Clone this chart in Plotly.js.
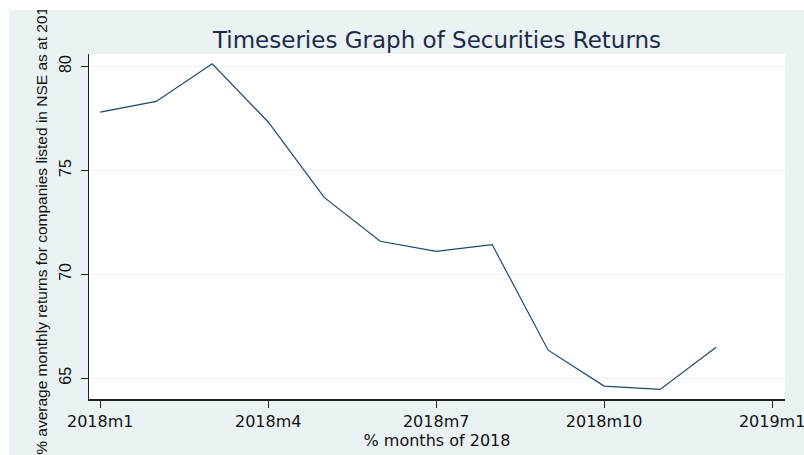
<!DOCTYPE html>
<html>
<head>
<meta charset="utf-8">
<script src="https://cdn.plot.ly/plotly-3.0.1.min.js"></script>
<style>
  html, body { margin: 0; padding: 0; background: #ffffff; width: 804px; height: 455px; overflow: hidden; }
  #chart { position: absolute; left: 9px; top: 10px; width: 795px; height: 445px; }
</style>
</head>
<body>
<div id="chart"></div>
<script>
// Data
const months = ["2018m1","2018m2","2018m3","2018m4","2018m5","2018m6",
                "2018m7","2018m8","2018m9","2018m10","2018m11","2018m12"];
const returnsPct = [77.8, 78.32, 80.13, 77.33, 73.7, 71.59,
                    71.1, 71.43, 66.35, 64.62, 64.46, 66.49];
const xTickLabels = ["2018m1","2018m4","2018m7","2018m10","2019m1"];
const xTickIndex = [0, 3, 6, 9, 12];
const yTicks = [65, 70, 75, 80];

const monthIndex = months.map((m, i) => i);

const trace = {
  x: monthIndex,
  y: returnsPct,
  text: months,
  type: "scatter",
  mode: "lines",
  line: { color: "#1a476f", width: 1.2 },
  hoverinfo: "text+y"
};

const layout = {
  width: 795,
  height: 445,
  paper_bgcolor: "#eaf2f3",
  plot_bgcolor: "#ffffff",
  margin: { l: 80, r: 19, t: 44, b: 56 },
  showlegend: false,
  title: {
    text: "Timeseries Graph of Securities Returns",
    font: { family: "DejaVu Sans", size: 23, color: "#1e2a48" },
    x: 0.5, xref: "paper",
    y: 1 - 30 / 445, yref: "container", yanchor: "middle"
  },
  xaxis: {
    range: [-0.2, 12.23],
    tickvals: xTickIndex,
    ticktext: xTickLabels,
    ticks: "outside",
    ticklen: 7,
    tickwidth: 1.2,
    tickcolor: "#222222",
    ticklabeloverflow: "allow",
    showline: true,
    linecolor: "#222222",
    linewidth: 1.5,
    showgrid: false,
    zeroline: false,
    tickfont: { family: "DejaVu Sans", size: 16, color: "#111111" },
    title: {
      text: "% months of 2018",
      font: { family: "DejaVu Sans", size: 16, color: "#111111" },
      standoff: 0
    }
  },
  yaxis: {
    range: [64.0, 80.6],
    tickvals: yTicks,
    ticks: "outside",
    ticklen: 7,
    tickwidth: 1.2,
    tickcolor: "#222222",
    tickangle: -90,
    ticklabelstandoff: 3,
    showline: true,
    linecolor: "#222222",
    linewidth: 1.5,
    showgrid: true,
    gridcolor: "#eaf2f3",
    gridwidth: 1,
    zeroline: false,
    tickfont: { family: "Liberation Sans", size: 16, color: "#111111" },
    title: {
      text: "% average monthly returns for companies listed in NSE as at 2018",
      font: { family: "Liberation Sans", size: 15.5, color: "#111111" },
      standoff: 5
    }
  }
};

Plotly.newPlot("chart", [trace], layout, { displayModeBar: false, staticPlot: true });
</script>
</body>
</html>
